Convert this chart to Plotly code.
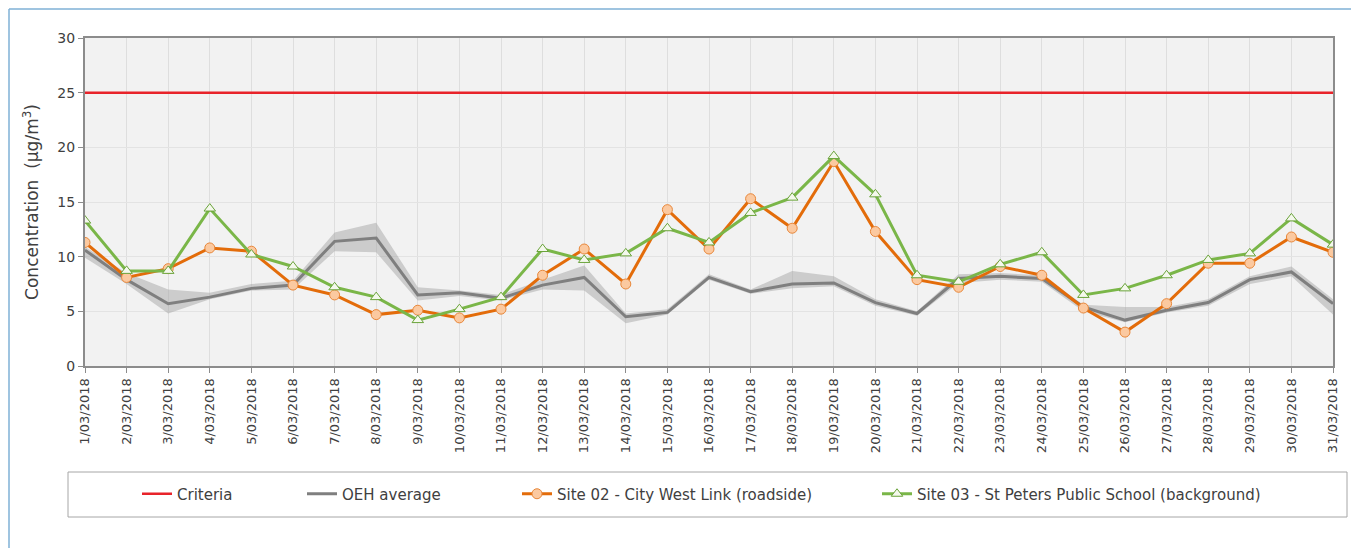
import plotly.graph_objects as go

dates = [f"{d}/03/2018" for d in range(1, 32)]

criteria_value = 25
criteria = [criteria_value] * len(dates)

oeh_avg = [10.6, 7.9, 5.7, 6.3, 7.1, 7.4, 11.4, 11.7, 6.5, 6.7, 6.2, 7.4, 8.1, 4.5, 4.9,
           8.1, 6.8, 7.5, 7.6, 5.8, 4.8, 8.0, 8.2, 8.0, 5.4, 4.2, 5.1, 5.8, 7.9, 8.6, 5.7]
oeh_upper = [10.9, 8.5, 7.0, 6.7, 7.5, 7.8, 12.2, 13.1, 7.2, 6.9, 6.5, 7.9, 9.2, 4.8, 5.2,
             8.4, 7.0, 8.7, 8.2, 6.1, 5.0, 8.4, 8.5, 8.3, 5.6, 5.4, 5.4, 6.1, 8.2, 9.1, 6.1]
oeh_lower = [9.9, 7.5, 4.8, 6.1, 6.9, 7.0, 10.5, 10.4, 6.0, 6.4, 6.0, 7.0, 6.9, 3.9, 4.7,
             7.9, 6.6, 7.1, 7.3, 5.5, 4.6, 7.6, 7.9, 7.7, 5.0, 4.0, 4.9, 5.5, 7.5, 8.2, 4.7]
site02 = [11.3, 8.1, 8.9, 10.8, 10.5, 7.4, 6.5, 4.7, 5.1, 4.4, 5.2, 8.3, 10.7, 7.5, 14.3,
          10.7, 15.3, 12.6, 18.7, 12.3, 7.9, 7.2, 9.1, 8.3, 5.3, 3.1, 5.7, 9.4, 9.4, 11.8, 10.4]
site03 = [13.3, 8.7, 8.7, 14.4, 10.2, 9.1, 7.2, 6.3, 4.2, 5.2, 6.3, 10.7, 9.7, 10.3, 12.6,
          11.3, 14.0, 15.4, 19.2, 15.7, 8.3, 7.7, 9.3, 10.4, 6.5, 7.1, 8.3, 9.7, 10.3, 13.5, 11.1]

y_ticks = [0, 5, 10, 15, 20, 25, 30]

FONT = "DejaVu Sans"
TXT = "#404040"

fig = go.Figure()

# OEH range band
fig.add_trace(go.Scatter(x=dates, y=oeh_upper, mode="lines", line=dict(width=0),
                         showlegend=False, hoverinfo="skip"))
fig.add_trace(go.Scatter(x=dates, y=oeh_lower, mode="lines", line=dict(width=0),
                         fill="tonexty", fillcolor="rgba(165,165,165,0.5)",
                         showlegend=False, hoverinfo="skip"))

fig.add_trace(go.Scatter(x=dates, y=criteria, mode="lines", name="Criteria",
                         line=dict(color="#e8232a", width=2.5), legend="legend"))
fig.add_trace(go.Scatter(x=dates, y=oeh_avg, mode="lines", name="OEH average",
                         line=dict(color="#7f7f7f", width=3), legend="legend2"))
fig.add_trace(go.Scatter(x=dates, y=site02, mode="lines+markers",
                         name="Site 02 - City West Link (roadside)",
                         line=dict(color="#e36c0a", width=3),
                         marker=dict(symbol="circle", size=10, color="#fbc9a0",
                                     line=dict(color="#e8873a", width=1)),
                         legend="legend3"))
fig.add_trace(go.Scatter(x=dates, y=site03, mode="lines+markers",
                         name="Site 03 - St Peters Public School (background)",
                         line=dict(color="#7ab648", width=3),
                         marker=dict(symbol="triangle-up", size=10, color="#f4f8ec",
                                     line=dict(color="#6aa33a", width=1)),
                         legend="legend4"))

# page is rendered with an 8px body margin; plot area in page coords: x 85..1333, y 38..366
OFF = 8
W, H = 1343, 540
PL, PR, PT, PB = 85, 1333, 38, 366
L = PL - OFF
T = PT - OFF
R = W - (PR - OFF)
B = H - (PB - OFF)
pw, ph = PR - PL, PB - PT


def px(x):
    return (x - PL) / pw


def py(y):
    return (PB - y) / ph


legend_common = dict(orientation="h", yanchor="middle", y=py(494), xanchor="left",
                     bgcolor="rgba(0,0,0,0)", borderwidth=0,
                     font=dict(family=FONT, size=15, color=TXT))

fig.update_layout(
    width=W, height=H,
    margin=dict(l=L, r=R, t=T, b=B),
    paper_bgcolor="white",
    plot_bgcolor="#f2f2f2",
    font=dict(family=FONT, color=TXT),
    legend=dict(x=px(137), **legend_common),
    legend2=dict(x=px(302), **legend_common),
    legend3=dict(x=px(517), **legend_common),
    legend4=dict(x=px(877), **legend_common),
    shapes=[
        # legend box
        dict(type="rect", xref="paper", yref="paper", x0=px(68), x1=px(1347),
             y0=py(517), y1=py(472), line=dict(color="#a6a6a6", width=1),
             fillcolor="rgba(0,0,0,0)", layer="below"),
        # outer frame
        dict(type="line", xref="paper", yref="paper", x0=px(9), x1=px(1365),
             y0=py(9), y1=py(9), line=dict(color="#7fb0d6", width=1.5)),
        dict(type="line", xref="paper", yref="paper", x0=px(9), x1=px(9),
             y0=py(9), y1=py(565), line=dict(color="#7fb0d6", width=1.5)),
    ],
)

fig.update_xaxes(
    type="category", range=[0, len(dates) - 1],
    showgrid=True, gridcolor="#dedede", gridwidth=1,
    ticks="outside", ticklen=5, tickcolor="#8c8c8c",
    tickangle=-90, tickfont=dict(family=FONT, size=13, color=TXT),
    showline=True, linecolor="#8c8c8c", linewidth=2, mirror=True,
    zeroline=False,
)
fig.update_yaxes(
    range=[0, 30], tickvals=y_ticks,
    showgrid=True, gridcolor="#e3e3e3", gridwidth=1,
    ticks="outside", ticklen=5, tickcolor="#8c8c8c",
    tickfont=dict(family=FONT, size=14, color=TXT),
    showline=True, linecolor="#8c8c8c", linewidth=2, mirror=True,
    zeroline=False,
    title=dict(text="Concentration  (µg/m<sup>3</sup>)",
               font=dict(family=FONT, size=17, color=TXT), standoff=14),
)

fig.write_html("out.html")
